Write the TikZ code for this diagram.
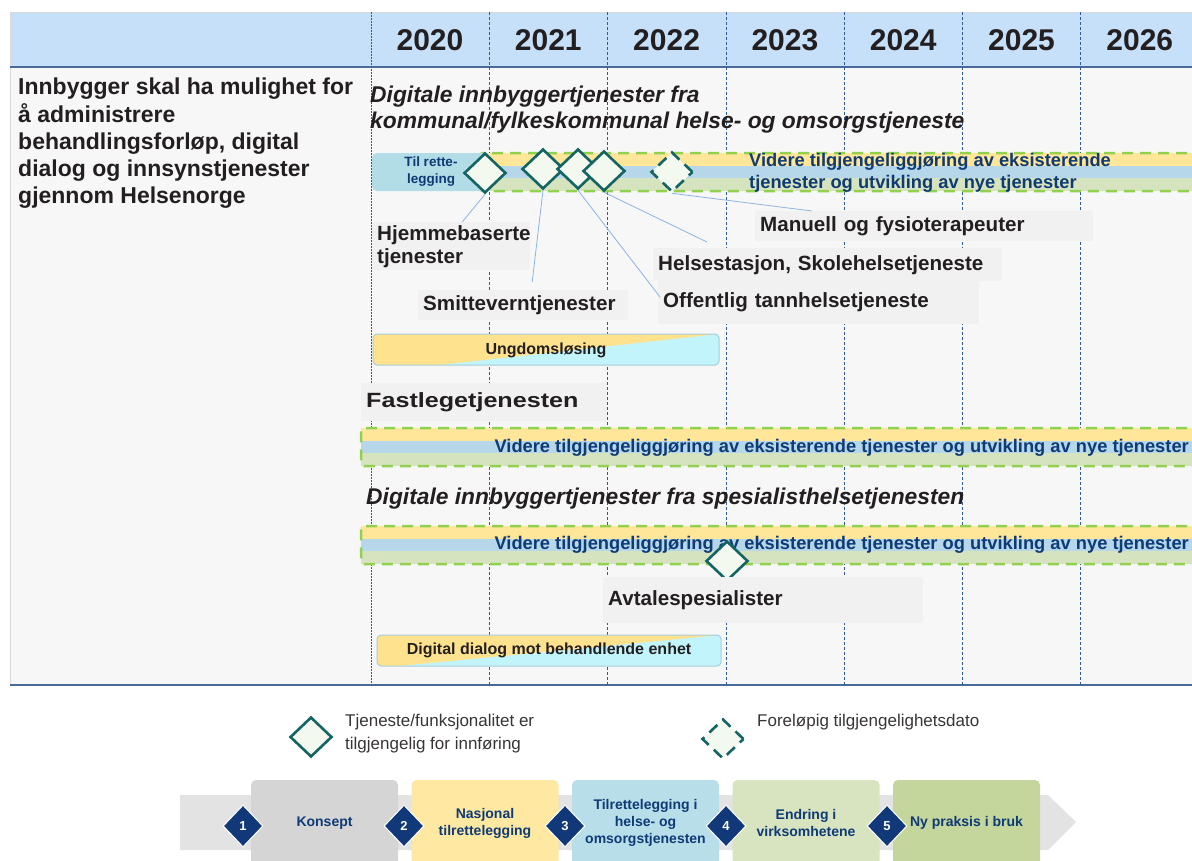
\documentclass[tikz,border=0pt]{standalone}
\usepackage{fontspec}
\setmainfont{Liberation Sans}
\usetikzlibrary{shapes.geometric,positioning}
\definecolor{rmInk}{HTML}{231F20}
\definecolor{rmNavy}{HTML}{0E3A76}
\definecolor{rmHead}{HTML}{C7E0FA}
\definecolor{rmRule}{HTML}{4A6A9A}
\definecolor{rmGrid}{HTML}{2E5A98}
\definecolor{rmPaper}{HTML}{F7F7F7}
\definecolor{rmLabel}{HTML}{F1F1F1}
\definecolor{rmYellow}{HTML}{FFE699}
\definecolor{rmBlue}{HTML}{B5D7E9}
\definecolor{rmGreen}{HTML}{D6E3BF}
\definecolor{rmLime}{HTML}{92D050}
\definecolor{rmTeal}{HTML}{B2DCE6}
\definecolor{rmMint}{HTML}{F3F9EF}
\definecolor{rmPine}{HTML}{146464}
\definecolor{rmLink}{HTML}{8CB4E3}
\definecolor{rmCyan}{HTML}{C2F4FC}
\definecolor{rmSun}{HTML}{FFE28E}
\definecolor{rmEdge}{HTML}{A6CFDB}
\definecolor{rmBand}{HTML}{E3E3E3}
\definecolor{rmPhaseA}{HTML}{D5D5D5}
\definecolor{rmPhaseB}{HTML}{FFE8A1}
\definecolor{rmPhaseC}{HTML}{B8DFE9}
\definecolor{rmPhaseD}{HTML}{D7E4BF}
\definecolor{rmPhaseE}{HTML}{C4D69C}
\definecolor{rmNumber}{HTML}{11397A}
\tikzset{
  rm year/.style={font=\bfseries\fontsize{30}{34}\selectfont, text=rmInk},
  rm grid/.style={draw=rmGrid, line width=.8pt, dash pattern=on 3pt off 2pt},
  rm heading/.style={font=\bfseries\itshape\fontsize{22.8}{26}\selectfont,
    text=rmInk, align=left, anchor=north west, inner sep=0pt},
  rm label/.style={fill=rmLabel, font=\bfseries\fontsize{20.6}{23}\selectfont,
    text=rmInk, anchor=north west, align=left, inner xsep=5pt, inner ysep=0pt},
  rm milestone/.style={diamond, draw=rmPine, fill=rmMint, line width=2.6pt,
    minimum width=42pt, minimum height=40pt, inner sep=0pt},
  rm tentative/.style={rm milestone, dash pattern=on 11pt off 7pt},
  rm link/.style={draw=rmLink, line width=.8pt},
  rm bartext/.style={font=\bfseries\fontsize{18.3}{22}\selectfont, text=rmNavy,
    align=left, inner sep=0pt},
  rm stripe border/.style={draw=rmLime, line width=2.5pt,
    dash pattern=on 11pt off 7pt, rounded corners=3pt},
  rm pill/.style={font=\bfseries\fontsize{16}{18}\selectfont, text=rmInk},
  rm phase/.style={minimum width=147pt, minimum height=86pt, rounded corners=5pt,
    align=center, text=rmNavy, font=\bfseries\fontsize{14}{17}\selectfont},
  rm stepmark/.style={diamond, fill=rmNumber, draw=white, line width=1pt,
    minimum width=40pt, minimum height=42pt, inner sep=0pt, text=white,
    font=\bfseries\fontsize{13}{15}\selectfont},
  rm legend/.style={font=\fontsize{17}{23}\selectfont, text=rmInk!90,
    align=left, anchor=west, inner sep=0pt}
}
\begin{document}
\begin{tikzpicture}[x=1pt,y=-1pt]
  \useasboundingbox[fill=white] (0,0) rectangle (1192,860);
  \clip (0,0) rectangle (1192,860);

  % frame and header
  \fill[rmPaper] (10,12) rectangle (1200,685);
  \fill[rmHead] (10,12) rectangle (1200,67);
  \draw[draw=black!15, line width=1pt] (10,685) -- (10,12) -- (1200,12);
  \draw[draw=rmRule, line width=1.5pt] (10,67) -- (1200,67)
    (10,685) -- (1200,685);
  \draw[rm grid, dash pattern=on 1.5pt off 1.5pt] (371,12) -- (371,685);
  \foreach \i in {1,...,6}
    \draw[rm grid] ({371+118.3*\i},12) -- ({371+118.3*\i},685);
  \foreach \yr [count=\i from 0] in {2020,...,2026}
    \node[rm year] (yr\yr) at ({430+118.3*\i},40) {\yr};

  \node[font=\bfseries\fontsize{23}{27.2}\selectfont, text=rmInk, align=left,
    anchor=north west, inner sep=0pt] (goal) at (18,78)
    {Innbygger skal ha mulighet for\\å administrere\\behandlingsforløp, digital\\dialog og innsynstjenester\\gjennom Helsenorge};

  % kommunal
  \node[rm heading] (headKommune) at (370,86)
    {Digitale innbyggertjenester fra\\kommunal/fylkeskommunal helse- og omsorgstjeneste};

  \foreach \xa/\ya in {480/153, 361/428, 361/526} {
    \fill[rmYellow] (\xa,\ya) rectangle (1200,\ya+12.7);
    \fill[rmBlue] (\xa,\ya+12.7) rectangle (1200,\ya+25.3);
    \fill[rmGreen] (\xa,\ya+25.3) rectangle (1200,\ya+38);
    \draw[rm stripe border] (1205,\ya) -- (\xa,\ya) -- (\xa,\ya+38) -- (1205,\ya+38);
  }
  \node[fill=rmTeal, rounded corners=5pt, minimum width=118pt, minimum height=38pt,
    align=center, text=rmNavy, font=\bfseries\fontsize{13.5}{17}\selectfont,
    inner sep=0pt] (tilrette) at (431,172) {Til rette-\\legging};
  \node[rm bartext, anchor=west] (videreA) at (749,173)
    {Videre tilgjengeliggjøring av eksisterende\\tjenester og utvikling av nye tjenester};

  \node[rm milestone] (dHjem) at (485,173) {};
  \node[rm milestone] (dSmitte) at (543,169) {};
  \node[rm milestone] (dTann) at (578,169) {};
  \node[rm milestone] (dHelse) at (604,171) {};
  \node[rm tentative] (dManuell) at (672,172) {};

  \node[rm label, text width=148pt, minimum height=48pt] (hjem) at (372,222)
    {Hjemmebaserte\\tjenester};
  \node[rm label, text width=200pt, minimum height=30pt] (smitte) at (418,290)
    {Smitteverntjenester};
  \node[rm label, text width=328pt, minimum height=30pt] (manuell) at (755,211)
    {Manuell og fysioterapeuter};
  \node[rm label, text width=339pt, minimum height=33pt] (helse) at (653,248)
    {Helsestasjon, Skolehelsetjeneste};
  \node[rm label, text width=311pt, minimum height=43pt] (tann) at (658,281)
    {Offentlig tannhelsetjeneste};

  \draw[rm link] (dHjem.south) -- ([xshift=11pt]hjem.north);
  \draw[rm link] (dSmitte.south) -- ([xshift=9pt,yshift=8pt]smitte.north);
  \draw[rm link] (dTann.south) -- ([xshift=2pt,yshift=-16pt]tann.north west);
  \draw[rm link] (dHelse.south) -- ([xshift=54pt,yshift=6pt]helse.north west);
  \draw[rm link] (dManuell.south) -- ([xshift=57pt]manuell.north west);

  \begin{scope}
    \clip[rounded corners=4pt] (373,334) rectangle (719,365);
    \fill[rmSun] (373,334) rectangle (719,365);
    \fill[rmCyan] (440,365) -- (719,334) -- (719,365) -- cycle;
  \end{scope}
  \draw[draw=rmEdge, line width=1pt, rounded corners=4pt] (373,334) rectangle (719,365);
  \node[rm pill] (ungdom) at (546,350) {Ungdomsløsing};

  % fastlege
  \node[rm label, text width=236pt, minimum height=38pt] (fastlege) at (361,383)
    {\scalebox{1.22}[1]{Fastlegetjenesten}};
  \node[rm bartext, anchor=east] (videreB) at (1189,448)
    {Videre tilgjengeliggjøring av eksisterende tjenester og utvikling av nye tjenester};

  % spesialist
  \node[rm heading] (headSpesialist) at (366,488)
    {Digitale innbyggertjenester fra spesialisthelsetjenesten};
  \node[rm bartext, anchor=east] (videreC) at (1189,545)
    {Videre tilgjengeliggjøring av eksisterende tjenester og utvikling av nye tjenester};
  \node[rm milestone] (dAvtale) at (727,561) {};
  \node[rm label, text width=310pt, minimum height=46pt] (avtale) at (603,577)
    {Avtalespesialister};

  \begin{scope}
    \clip[rounded corners=4pt] (377,635) rectangle (721,666);
    \fill[rmSun] (377,635) rectangle (721,666);
    \fill[rmCyan] (400,666) -- (721,635) -- (721,666) -- cycle;
  \end{scope}
  \draw[draw=rmEdge, line width=1pt, rounded corners=4pt] (377,635) rectangle (721,666);
  \node[rm pill] (dialog) at (549,650) {Digital dialog mot behandlende enhet};

  % legend
  \node[rm milestone] (legSolid) at (311,737) {};
  \node[rm legend] (legSolidText) at (345,734)
    {Tjeneste/funksjonalitet er\\tilgjengelig for innføring};
  \node[rm tentative] (legDash) at (723,739) {};
  \node[rm legend] (legDashText) at (757,722) {Foreløpig tilgjengelighetsdato};

  % phases
  \fill[rmBand] (180,795) -- (1048,795) -- (1076,822) -- (1048,850) -- (180,850) -- cycle;
  \foreach \fillc/\txt [count=\i from 0] in {rmPhaseA/Konsept,
      rmPhaseB/{Nasjonal\\tilrettelegging},
      rmPhaseC/{Tilrettelegging i\\helse- og\\omsorgstjenesten},
      rmPhaseD/{Endring i\\virksomhetene},
      rmPhaseE/{Ny praksis i bruk}}
    \node[rm phase, fill=\fillc] (phase\i) at ({324.5+160.5*\i},823) {\txt};
  \foreach \i in {1,...,5}
    \node[rm stepmark] (num\i) at ({243+161*(\i-1)},826) {\i};
\end{tikzpicture}
\end{document}
